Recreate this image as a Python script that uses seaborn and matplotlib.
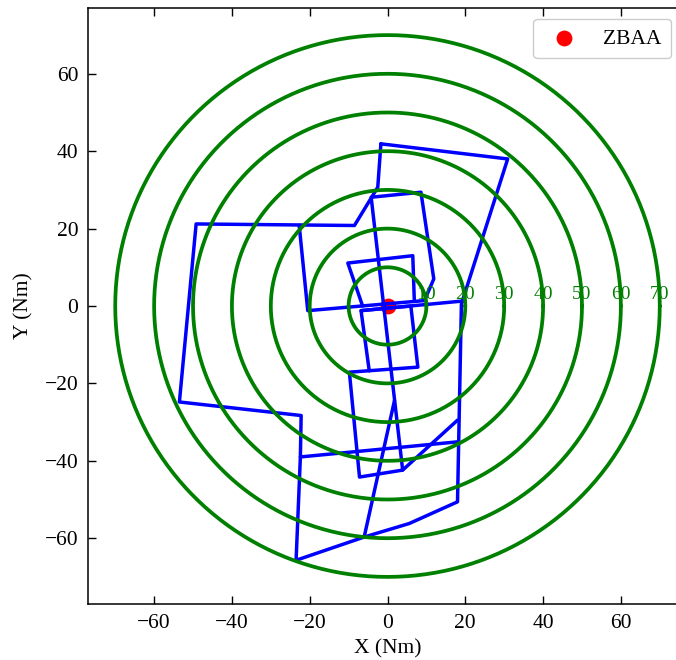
import numpy as np
import pandas as pd
import matplotlib
matplotlib.use('Agg')
import matplotlib.pyplot as plt
import seaborn as sns

sns.set_style('ticks')
plt.rcParams['font.family'] = ['Liberation Serif', 'DejaVu Serif']
plt.rcParams['text.color'] = 'black'
plt.rcParams['axes.labelcolor'] = 'black'
plt.rcParams['xtick.color'] = 'black'
plt.rcParams['ytick.color'] = 'black'

# 距离圈 (Nm)
ring_radii = [10, 20, 30, 40, 50, 60, 70]
ring_labels = ['10', '20', '30', '40', '50', '60', '70']

# 机场位置
airport_name = 'ZBAA'
airport_x = [0.0]
airport_y = [0.0]

# 航迹 (每段一条折线)
leg_outer_x = [-1.7, 30.9, 19.0, 18.0, 5.6, -6.0, -23.5, -22.4, -22.2, -53.5, -49.2, -8.5, -2.5, -1.7]
leg_outer_y = [41.9, 38.0, 0.5, -50.6, -56.2, -59.7, -65.7, -39.0, -28.3, -24.8, 21.2, 20.8, 30.7, 41.9]
leg_inner_x = [-22.7, -20.5, 9.5, 11.9, 8.6, -4.2, 3.9, 18.0]
leg_inner_y = [20.8, -1.2, 1.4, 7.0, 29.4, 28.1, -42.4, -29.5]
leg_cross_x = [-22.4, 18.0]
leg_cross_y = [-39.0, -35.1]
leg_spike_x = [-6.0, 1.8]
leg_spike_y = [-59.7, -24.4]
leg_box_x = [3.9, -7.2, -9.8, 7.8, 6.0, -6.8, -4.7]
leg_box_y = [-42.4, -44.2, -17.1, -15.8, 0.0, -1.2, -16.7]
leg_east_x = [-6.8, 19.5]
leg_east_y = [-1.2, 1.3]
leg_north_x = [-6.4, -10.2, 6.5, 6.9]
leg_north_y = [0.0, 11.1, 13.0, 1.2]

legs = [
    (leg_outer_x, leg_outer_y),
    (leg_inner_x, leg_inner_y),
    (leg_cross_x, leg_cross_y),
    (leg_spike_x, leg_spike_y),
    (leg_box_x, leg_box_y),
    (leg_east_x, leg_east_y),
    (leg_north_x, leg_north_y),
]
track = pd.concat(
    [pd.DataFrame({'x': lx, 'y': ly, 'leg': i}) for i, (lx, ly) in enumerate(legs)],
    ignore_index=True)

theta = np.linspace(0, 2 * np.pi, 361)
rings = pd.concat(
    [pd.DataFrame({'x': r * np.cos(theta), 'y': r * np.sin(theta), 'ring': r}) for r in ring_radii],
    ignore_index=True)

fig = plt.figure(figsize=(6.76, 6.60), dpi=100)
ax = fig.add_axes([88 / 676, 56 / 660, 599 / 676, 596 / 660])

sns.scatterplot(x=airport_x, y=airport_y, color='red', s=130, linewidth=0,
                label=airport_name, ax=ax, zorder=1)
sns.lineplot(data=track, x='x', y='y', units='leg', estimator=None, sort=False,
             color='blue', linewidth=2.5, ax=ax, zorder=2)
sns.lineplot(data=rings, x='x', y='y', units='ring', estimator=None, sort=False,
             color='green', linewidth=2.7, ax=ax, zorder=3)

for r, lab in zip(ring_radii, ring_labels):
    ax.text(r, 0.8, lab, color='green', fontsize=14, ha='center', va='bottom', zorder=4)

ax.set_xlim(-77, 77)
ax.set_ylim(-77, 77)
ax.set_xticks(range(-60, 61, 20))
ax.set_yticks(range(-60, 61, 20))
ax.tick_params(direction='in', top=True, right=True, length=6, width=1, labelsize=15.5, pad=7)
for s in ax.spines.values():
    s.set_linewidth(1.1)
    s.set_color('black')
ax.set_xlabel('X (Nm)', fontsize=15.5, labelpad=5)
ax.set_ylabel('Y (Nm)', fontsize=15.5, labelpad=8)

ax.legend(loc='upper right', bbox_to_anchor=(1 - 5 / 599, 1), fontsize=15.5,
          handletextpad=0.8, borderpad=0.45, framealpha=1)

fig.savefig('out.png', dpi=100)
